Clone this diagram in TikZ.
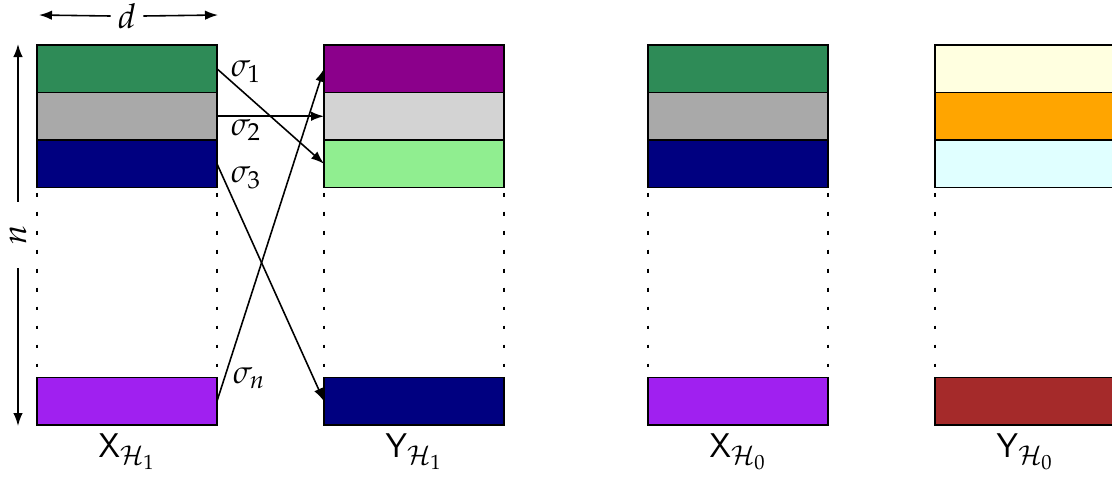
\RequirePackage{fix-cm}
\documentclass[tikz,border=0pt]{standalone}
\usepackage{mathpazo}
\usetikzlibrary{arrows.meta}
\definecolor{cSeaGreen}{RGB}{46,139,87}
\definecolor{cDarkGray}{RGB}{169,169,169}
\definecolor{cNavy}{RGB}{0,0,128}
\definecolor{cPurple}{RGB}{160,32,240}
\definecolor{cDarkMagenta}{RGB}{139,0,139}
\definecolor{cLightGray}{RGB}{211,211,211}
\definecolor{cLightGreen}{RGB}{144,238,144}
\definecolor{cLightYellow}{RGB}{255,255,224}
\definecolor{cOrange}{RGB}{255,165,0}
\definecolor{cLightCyan}{RGB}{224,255,255}
\definecolor{cBrown}{RGB}{165,42,42}
\begin{document}
\begin{tikzpicture}[x=0.02cm,y=-0.02cm,
  cell/.style={draw=black, line width=0.9pt, minimum width=3.6cm, minimum height=0.95cm, anchor=north west, inner sep=0pt, outer sep=0pt},
  dotline/.style={line width=1.1pt, dash pattern=on 2.2pt off 8.6pt, dash phase=-3pt},
  map/.style={-{Latex[length=2.6mm,width=1.9mm]}, line width=0.9pt},
  dim/.style={-{Latex[length=2.6mm,width=1.9mm]}, line width=0.9pt},
  lab/.style={font=\fontsize{19.5}{23}\selectfont, inner sep=0pt},
  sig/.style={font=\fontsize{18.5}{22}\selectfont, inner sep=0pt}]
\useasboundingbox (0,0) rectangle (1112,478);
% columns
\foreach \nm/\x/\ca/\cb/\cc/\cd in {a/37/cSeaGreen/cDarkGray/cNavy/cPurple,
                                   b/324/cDarkMagenta/cLightGray/cLightGreen/cNavy,
                                   c/648/cSeaGreen/cDarkGray/cNavy/cPurple,
                                   e/935/cLightYellow/cOrange/cLightCyan/cBrown}{
  \node[cell, fill=\ca] (\nm1) at (\x,45) {};
  \node[cell, fill=\cb] (\nm2) at (\x,92.5) {};
  \node[cell, fill=\cc] (\nm3) at (\x,140) {};
  \node[cell, fill=\cd] (\nm4) at (\x,377.5) {};
  \draw[dotline] (\nm3.south west) -- (\nm4.north west);
  \draw[dotline] (\nm3.south east) -- (\nm4.north east);
}
% labels
\node[lab] (la) at (127,452) {$\mathsf{X}_{\mathcal{H}_1}$};
\node[lab] (lb) at (414,452) {$\mathsf{Y}_{\mathcal{H}_1}$};
\node[lab] (lc) at (738,452) {$\mathsf{X}_{\mathcal{H}_0}$};
\node[lab] (le) at (1025,452) {$\mathsf{Y}_{\mathcal{H}_0}$};
% mapping arrows
\draw[map] (a1.east) -- (b3.west);
\draw[map] (a2.east) -- (b2.west);
\draw[map] (a3.east) -- (b4.west);
\draw[map] (a4.east) -- (b1.west);
\node[sig] (s1) at (246,72) {$\sigma_1$};
\node[sig] (s2) at (246,130) {$\sigma_2$};
\node[sig] (s3) at (246,178) {$\sigma_3$};
\node[sig] (sn) at (249,378) {$\sigma_n$};
% dimension d
\coordinate (dl) at (39,15);
\coordinate (dr) at (218,15);
\node[lab, inner xsep=4pt] (d) at (127,16) {$d$};
\draw[dim] (d.west) -- (dl);
\draw[dim] (d.east) -- (dr);
% dimension n
\coordinate (nt) at (18,44);
\coordinate (nb) at (18,426);
\node[lab, rotate=90, inner xsep=13pt] (n) at (18,235) {$n$};
\draw[dim] (n.east) -- (nt);
\draw[dim] (n.west) -- (nb);
\end{tikzpicture}
\end{document}
